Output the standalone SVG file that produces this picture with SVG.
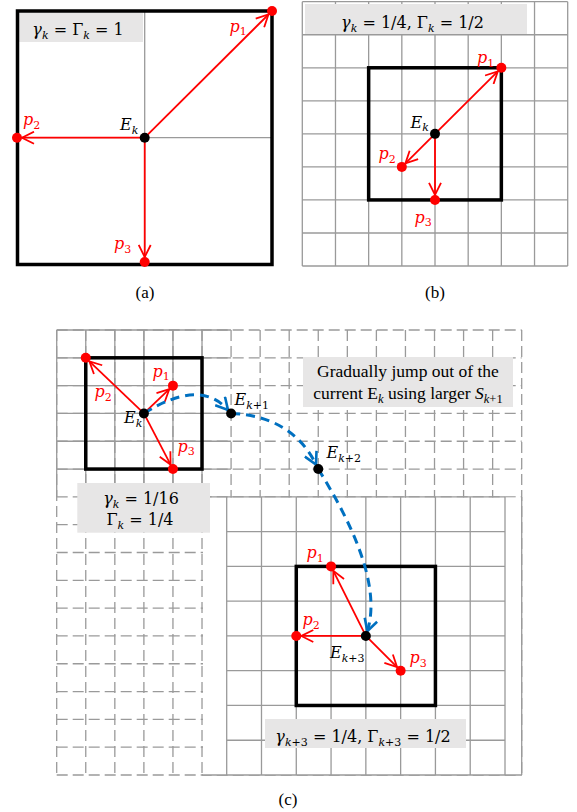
<svg xmlns="http://www.w3.org/2000/svg" width="577" height="812" viewBox="0 0 577 812">
<style>
.grid{fill:none;stroke:#9a9a9a;stroke-width:1.3}
.dash{fill:none;stroke:#9a9a9a;stroke-width:1.3;stroke-dasharray:11 5}
.thick{fill:none;stroke:#000;stroke-width:3.5}
.box{fill:#e7e6e6}
.red{fill:none;stroke:#ff0000;stroke-width:1.8;marker-end:url(#ar)}
.blue{fill:none;stroke:#0070c0;stroke-width:3;stroke-dasharray:9 6;marker-end:url(#ab)}
.rd{fill:#ff0000}
.bk{fill:#000}
.m{font-family:"DejaVu Serif","Liberation Serif",serif;font-size:16px;fill:#000}
.lab{font-family:"DejaVu Serif","Liberation Serif",serif;font-size:16px;font-style:italic}
.pl{fill:#ff0000}
.el{fill:#000}
.t{font-family:"Liberation Serif","Times New Roman",serif;font-size:17.5px;fill:#000}
.cap{font-family:"Liberation Serif","Times New Roman",serif;font-size:17px;fill:#000;text-anchor:middle}
.i{font-style:italic}
.up{font-style:normal}
.s{font-size:11px}
</style>
<defs>
<marker id="ar" viewBox="-1 -1 14 14" refX="12" refY="6" markerWidth="14" markerHeight="14" markerUnits="userSpaceOnUse" orient="auto">
<path d="M0,0 L12,6 L0,12" fill="none" stroke="#ff0000" stroke-width="1.8"/>
</marker>
<marker id="ab" viewBox="-1 -1 15 15" refX="12" refY="6.5" markerWidth="15" markerHeight="15" markerUnits="userSpaceOnUse" orient="auto">
<path d="M0,0 L12,6.5 L0,13" fill="none" stroke="#0070c0" stroke-width="2.6"/>
</marker>
</defs>
<rect width="577" height="812" fill="#fff"/>

<!-- Panel (a) -->
<g id="panel-a">
<path class="grid" d="M144.7,11 V264.5 M17.5,137.7 H272"/>
<rect class="box" x="19" y="12.5" width="124" height="29.5"/>
<text class="m" x="78" y="35" text-anchor="middle"><tspan class="i">γ</tspan><tspan class="i" font-size="11" dy="4">k</tspan><tspan dy="-4"> = Γ</tspan><tspan class="i" font-size="11" dy="4">k</tspan><tspan dy="-4"> = 1</tspan></text>
<rect class="thick" x="17.5" y="11" width="254.5" height="253.5"/>
<text class="cap" x="145" y="298">(a)</text>
</g>

<!-- Panel (b) -->
<g id="panel-b">
<path class="grid" d="M302.3,1.7 V266 M335.48,1.7 V266 M368.65,1.7 V266 M401.83,1.7 V266 M435,1.7 V266 M468.18,1.7 V266 M501.35,1.7 V266 M534.53,1.7 V266 M567.7,1.7 V266 M302.3,1.7 H567.7 M302.3,34.74 H567.7 M302.3,67.78 H567.7 M302.3,100.82 H567.7 M302.3,133.86 H567.7 M302.3,166.9 H567.7 M302.3,199.94 H567.7 M302.3,232.98 H567.7 M302.3,266.02 H567.7"/>
<rect class="box" x="305" y="4" width="222" height="30"/>
<text class="m" x="412.5" y="28" text-anchor="middle"><tspan class="i">γ</tspan><tspan class="i" font-size="11" dy="4">k</tspan><tspan dy="-4"> = 1/4, Γ</tspan><tspan class="i" font-size="11" dy="4">k</tspan><tspan dy="-4"> = 1/2</tspan></text>
<rect class="thick" x="368.65" y="67.78" width="132.7" height="132.16"/>
<text class="cap" x="435" y="298">(b)</text>
</g>

<!-- Panel (c) grids -->
<g id="panel-c">
<path class="dash" d="M56.7,330 V775 M85.76,330 V775 M114.83,330 V775 M143.89,330 V775 M172.95,330 V775 M202.01,330 V775 M231.08,330 V775 M260.14,330 V775 M289.2,330 V775 M318.26,330 V775 M347.33,330 V775 M376.39,330 V775 M405.45,330 V775 M434.51,330 V775 M463.58,330 V775 M492.64,330 V775 M521.7,330 V775 M56.7,330 H521.7 M56.7,357.81 H521.7 M56.7,385.63 H521.7 M56.7,413.44 H521.7 M56.7,441.25 H521.7 M56.7,469.06 H521.7 M56.7,496.88 H521.7 M56.7,524.69 H521.7 M56.7,552.5 H521.7 M56.7,580.31 H521.7 M56.7,608.13 H521.7 M56.7,635.94 H521.7 M56.7,663.75 H521.7 M56.7,691.56 H521.7 M56.7,719.38 H521.7 M56.7,747.19 H521.7 M56.7,775 H521.7"/>
<path class="grid" d="M56.7,330 V496.88 M85.76,330 V496.88 M114.83,330 V496.88 M143.89,330 V496.88 M172.95,330 V496.88 M202.01,330 V496.88 M56.7,330 H231.08 M56.7,357.81 H231.08 M56.7,385.63 H231.08 M56.7,413.44 H231.08 M56.7,441.25 H231.08 M56.7,469.06 H231.08"/>
<rect x="203" y="497.6" width="318" height="277.4" fill="#fff"/>
<path class="grid" d="M226.7,496.88 V775 M261.49,496.88 V775 M296.28,496.88 V775 M331.06,496.88 V775 M365.85,496.88 V775 M400.64,496.88 V775 M435.43,496.88 V775 M470.21,496.88 V775 M505,496.88 V775 M521.7,496.88 V775 M226.7,496.88 H505 M226.7,531.65 H505 M226.7,566.41 H505 M226.7,601.18 H505 M226.7,635.94 H505 M226.7,670.71 H505 M226.7,705.47 H505 M226.7,740.24 H505 M202,775 H521.7 M202,496.88 H226.7"/>
<rect class="thick" x="85.76" y="357.81" width="116.25" height="111.25"/>
<rect class="thick" x="296.28" y="566.41" width="139.15" height="139.06"/>
<rect class="box" x="77.3" y="483" width="132.7" height="49.7"/>
<text class="m" x="141" y="503.5" text-anchor="middle"><tspan class="i">γ</tspan><tspan class="i" font-size="11" dy="4">k</tspan><tspan dy="-4"> = 1/16</tspan></text>
<text class="m" x="140" y="524.5" text-anchor="middle">Γ<tspan class="i" font-size="11" dy="4">k</tspan><tspan dy="-4"> = 1/4</tspan></text>
<rect class="box" x="303" y="357" width="210" height="50"/>
<text class="t" x="408" y="377" text-anchor="middle">Gradually jump out of the</text>
<text class="t" x="408" y="398.5" text-anchor="middle">current E<tspan class="i" font-size="12.5" dy="4">k</tspan><tspan dy="-4"> using larger </tspan><tspan class="i">S</tspan><tspan font-size="12.5" dy="4"><tspan class="i">k</tspan>+1</tspan></text>
<rect class="box" x="265" y="719" width="201" height="29"/>
<text class="m" x="363" y="742" text-anchor="middle"><tspan class="i">γ</tspan><tspan font-size="11" dy="4"><tspan class="i">k</tspan>+3</tspan><tspan dy="-4"> = 1/4, Γ</tspan><tspan font-size="11" dy="4"><tspan class="i">k</tspan>+3</tspan><tspan dy="-4"> = 1/2</tspan></text>
<text class="cap" x="288" y="805">(c)</text>
</g>

<!-- Connectors -->
<g id="connectors">
<path class="red" d="M144.7,137.7 L268.45,14.5"/>
<path class="red" d="M144.7,137.7 L22,137.7"/>
<path class="red" d="M144.7,137.7 L144.7,257"/>
<path class="red" d="M435,133.86 L497.8,71.3"/>
<path class="red" d="M435,133.86 L405.4,163.4"/>
<path class="red" d="M435,133.86 L435,194.9"/>
<path class="red" d="M143.89,413.44 L169.3,389.1"/>
<path class="red" d="M143.89,413.44 L89.4,361.3"/>
<path class="red" d="M143.89,413.44 L170.6,464.6"/>
<path class="red" d="M365.85,635.94 L333.3,570.9"/>
<path class="red" d="M365.85,635.94 L301.3,635.94"/>
<path class="red" d="M365.85,635.94 L397.1,667.2"/>
<path class="blue" d="M143.89,413.44 Q200,378 228,410"/>
<path class="blue" d="M231.08,413.44 Q292,416 316,464.5"/>
<path class="blue" d="M318.26,469.06 C350,520 382,585 367.3,631.2"/>
</g>

<!-- Nodes -->
<g id="a-Ek"><circle class="bk" cx="144.7" cy="137.7" r="5"/><text class="lab el" x="120" y="130">E<tspan class="s" dy="3.5">k</tspan></text></g>
<g id="a-p1"><circle class="rd" cx="272" cy="11" r="5"/><text class="lab pl" x="229.5" y="31.5">p<tspan class="up s" dy="3.5">1</tspan></text></g>
<g id="a-p2"><circle class="rd" cx="17" cy="137.7" r="5"/><text class="lab pl" x="23" y="125">p<tspan class="up s" dy="3.5">2</tspan></text></g>
<g id="a-p3"><circle class="rd" cx="144.7" cy="262" r="5"/><text class="lab pl" x="114" y="249">p<tspan class="up s" dy="3.5">3</tspan></text></g>

<g id="b-Ek"><circle class="bk" cx="435" cy="133.86" r="5"/><text class="lab el" x="410.5" y="127.5">E<tspan class="s" dy="3.5">k</tspan></text></g>
<g id="b-p1"><circle class="rd" cx="501.35" cy="67.78" r="5"/><text class="lab pl" x="477" y="63">p<tspan class="up s" dy="3.5">1</tspan></text></g>
<g id="b-p2"><circle class="rd" cx="401.83" cy="166.9" r="5"/><text class="lab pl" x="378.5" y="159">p<tspan class="up s" dy="3.5">2</tspan></text></g>
<g id="b-p3"><circle class="rd" cx="435" cy="199.94" r="5"/><text class="lab pl" x="414.5" y="222.5">p<tspan class="up s" dy="3.5">3</tspan></text></g>

<g id="c-Ek"><circle class="bk" cx="143.89" cy="413.44" r="5"/><text class="lab el" x="124" y="423">E<tspan class="s" dy="3.5">k</tspan></text></g>
<g id="c-p1"><circle class="rd" cx="172.95" cy="385.63" r="5"/><text class="lab pl" x="152.5" y="376.5">p<tspan class="up s" dy="3.5">1</tspan></text></g>
<g id="c-p2"><circle class="rd" cx="85.76" cy="357.81" r="5"/><text class="lab pl" x="94.5" y="397">p<tspan class="up s" dy="3.5">2</tspan></text></g>
<g id="c-p3"><circle class="rd" cx="172.95" cy="469.06" r="5"/><text class="lab pl" x="177.5" y="451.5">p<tspan class="up s" dy="3.5">3</tspan></text></g>
<g id="c-Ek1"><circle class="bk" cx="231.08" cy="413.44" r="5"/><text class="lab el" x="234.5" y="405">E<tspan class="s" dy="3.5">k<tspan class="up">+1</tspan></tspan></text></g>
<g id="c-Ek2"><circle class="bk" cx="318.26" cy="469.06" r="5"/><text class="lab el" x="326.5" y="458">E<tspan class="s" dy="3.5">k<tspan class="up">+2</tspan></tspan></text></g>
<g id="c-Ek3"><circle class="bk" cx="365.85" cy="635.94" r="5"/><text class="lab el" x="330" y="658">E<tspan class="s" dy="3.5">k<tspan class="up">+3</tspan></tspan></text></g>
<g id="c-q1"><circle class="rd" cx="331.06" cy="566.41" r="5"/><text class="lab pl" x="306.5" y="558">p<tspan class="up s" dy="3.5">1</tspan></text></g>
<g id="c-q2"><circle class="rd" cx="296.28" cy="635.94" r="5"/><text class="lab pl" x="302.5" y="625">p<tspan class="up s" dy="3.5">2</tspan></text></g>
<g id="c-q3"><circle class="rd" cx="400.64" cy="670.71" r="5"/><text class="lab pl" x="409.5" y="663">p<tspan class="up s" dy="3.5">3</tspan></text></g>
</svg>
